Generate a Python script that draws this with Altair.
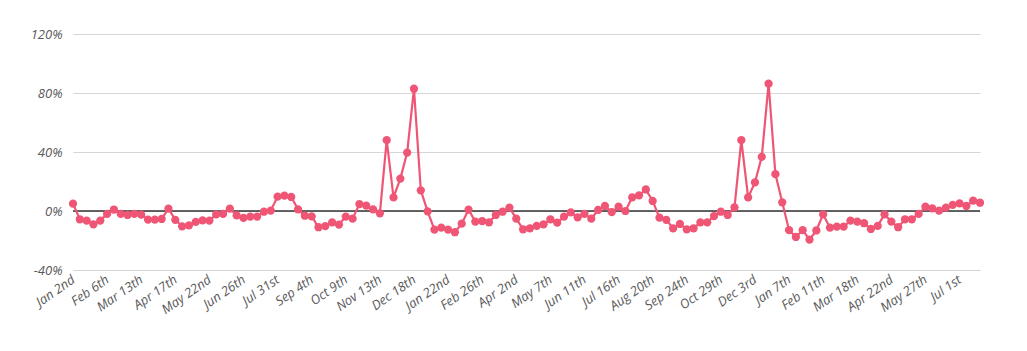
import altair as alt
import pandas as pd

start_date = "2017-01-02"
values = [
    5, -5.6, -6.5, -9, -6.5, -2, 1, -2, -2.7, -2,
    -2.5, -5.8, -5.8, -5.4, 1.6, -6, -10.4, -9.7, -7.4, -6.3,
    -6.5, -2.3, -2, 1.6, -3, -4.7, -3.8, -3.8, -0.5, 0.3,
    9.7, 10.4, 9.5, 1.1, -3.2, -3.6, -11, -10.2, -7.7, -9.2,
    -3.8, -5.2, 4.7, 3.6, 1.1, -1.6, 48, 9.2, 22, 39.6,
    82.9, 14, -0.2, -12.6, -11.3, -12.6, -14.4, -8.6, 0.9, -7.2,
    -6.8, -7.7, -2.7, -0.5, 2.3, -5.2, -12.4, -11.7, -10.1, -9,
    -5.6, -7.9, -3.8, -0.9, -4.3, -2, -5.2, 0.7, 3.4, -0.7,
    2.9, 0, 9.2, 10.6, 14.6, 6.8, -4.5, -6, -11.7, -8.8,
    -12.4, -11.7, -7.7, -7.7, -3.4, -0.5, -2.7, 2.5, 48, 9.2,
    19.4, 36.7, 86.3, 25, 5.9, -13, -17.6, -13, -19.4, -13.2,
    -2.3, -11.3, -10.6, -10.6, -6.5, -7.2, -8.3, -12.2, -10.1, -2.3,
    -7.2, -11, -5.6, -5.6, -2, 2.9, 1.8, 0.2, 2.3, 4.1,
    5.2, 3.4, 7, 5.6,
]
dates = pd.date_range(start_date, periods=len(values), freq="7D")

tick_dates = [
    "2017-01-02", "2017-02-06", "2017-03-13", "2017-04-17", "2017-05-22",
    "2017-06-26", "2017-07-31", "2017-09-04", "2017-10-09", "2017-11-13",
    "2017-12-18", "2018-01-22", "2018-02-26", "2018-04-02", "2018-05-07",
    "2018-06-11", "2018-07-16", "2018-08-20", "2018-09-24", "2018-10-29",
    "2018-12-03", "2019-01-07", "2019-02-11", "2019-03-18", "2019-04-22",
    "2019-05-27", "2019-07-01",
]
tick_labels = [
    "Jan 2nd", "Feb 6th", "Mar 13th", "Apr 17th", "May 22nd",
    "Jun 26th", "Jul 31st", "Sep 4th", "Oct 9th", "Nov 13th",
    "Dec 18th", "Jan 22nd", "Feb 26th", "Apr 2nd", "May 7th",
    "Jun 11th", "Jul 16th", "Aug 20th", "Sep 24th", "Oct 29th",
    "Dec 3rd", "Jan 7th", "Feb 11th", "Mar 18th", "Apr 22nd",
    "May 27th", "Jul 1st",
]
y_ticks = [-40, 0, 40, 80, 120]

df = pd.DataFrame({"date": dates, "value": values})

tick_dt = [
    alt.DateTime(year=int(d[:4]), month=int(d[5:7]), date=int(d[8:10]))
    for d in tick_dates
]
arr_dates = "[" + ",".join(f"'{d}'" for d in tick_dates) + "]"
arr_labels = "[" + ",".join(f"'{l}'" for l in tick_labels) + "]"
label_expr = f"{arr_labels}[indexof({arr_dates}, timeFormat(datum.value, '%Y-%m-%d'))]"

COLOR = "#ef5675"

x_enc = alt.X(
    "date:T",
    scale=alt.Scale(nice=False),
    axis=alt.Axis(
        values=tick_dt,
        labelExpr=label_expr,
        labelAngle=325,
        labelAlign="right",
        labelBaseline="middle",
        labelPadding=8,
        ticks=False,
        domain=False,
        grid=False,
        title=None,
        labelOverlap=False,
    ),
)
y_scale = alt.Scale(domain=[-40, 120], nice=False)
y_enc = alt.Y(
    "value:Q",
    scale=y_scale,
    axis=alt.Axis(
        values=y_ticks,
        labelExpr="datum.value + '%'",
        ticks=False,
        domain=False,
        grid=True,
        gridColor="#d6d6d6",
        gridWidth=1.2,
        title=None,
        labelPadding=11,
    ),
)

line = alt.Chart(df).mark_line(
    color=COLOR,
    strokeWidth=2.2,
    point=alt.OverlayMarkDef(filled=True, size=68, color=COLOR, opacity=1),
).encode(x=x_enc, y=y_enc)

zero = alt.Chart(pd.DataFrame({"z": [0]})).mark_rule(color="#333333", strokeWidth=1.3).encode(
    y=alt.Y("z:Q", scale=y_scale)
)

chart = alt.layer(zero, line).properties(
    width=907,
    height=236,
    padding={"left": 73, "top": 34, "right": 47, "bottom": 81},
    autosize=alt.AutoSizeParams(type="none"),
).configure_view(stroke=None).configure_axis(
    labelFont="Open Sans",
    labelFontStyle="italic",
    labelFontSize=13,
    labelColor="#5a5a5a",
)

chart.save("out.html", embed_options={"renderer": "svg", "actions": False})
